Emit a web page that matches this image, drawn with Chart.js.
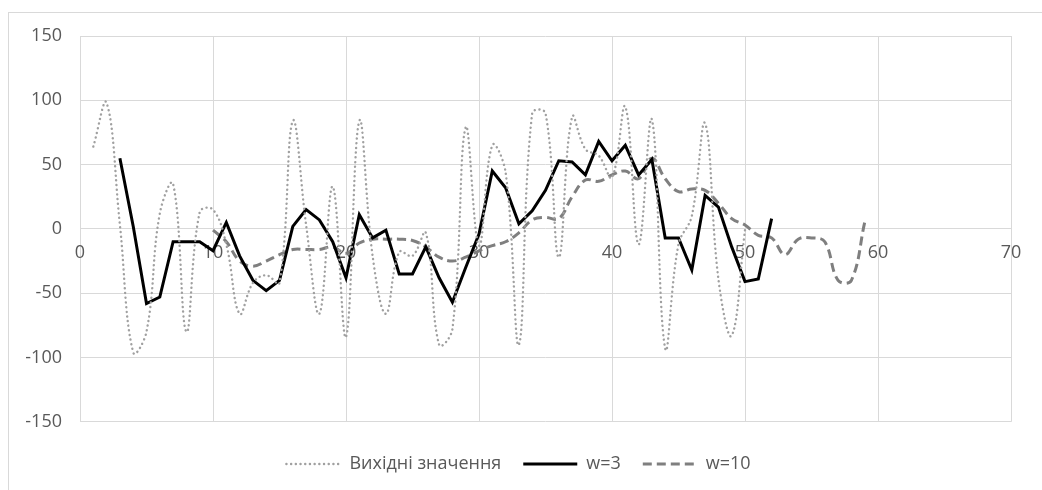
<!DOCTYPE html>
<html>
<head>
<meta charset="utf-8">
<script src="https://cdn.jsdelivr.net/npm/chart.js@4"></script>
<style>
    html, body { margin: 0; padding: 0; background: #fff; }
    #wrap { position: relative; width: 1042px; height: 490px; overflow: hidden; }
    #frame { position: absolute; left: 8px; top: 12px; width: 1100px; height: 540px; border: 1px solid #d9d9d9; }
    canvas { position: absolute; left: 0; top: 0; }
</style>
</head>
<body>
<div id="wrap">
    <div id="frame"></div>
    <canvas id="chart" width="1042" height="490"></canvas>
</div>
<script>
/* Moving average chart */

// original values, x = 1..50
const rawStart = 1;
const rawValues = [64, 98, 3, -96, -80, 12, 35, -80, 13, 15,
    -12, -66, -42, -36, -42, 84, 3, -66, 33, -84,
    84, -21, -66, -18, -21, -3, -90, -78, 79, -13,
    65, 44, -90, 90, 90, -22, 87, 62, 57, 40,
    95, -12, 85, -93, -12, 10, 82, -39, -83, -1];

// w=3, x = 3..52
const w3Start = 3;
const w3Values = [55, 2, -58, -53, -10, -10, -10, -17, 5, -21,
    -40, -48, -40, 2, 15, 7, -10, -38, 11, -7,
    -1, -35, -35, -14, -38, -57, -30, -4, 45, 32,
    4, 14, 30, 53, 52, 42, 68, 53, 65, 42,
    54, -7, -7, -32, 26, 17, -14, -41, -39, 8];

// w=10, x = 10..59
const w10Start = 10;
const w10Values = [-1, -10, -25, -29, -25, -20, -16, -16, -16, -14,
    -19, -11, -8, -8, -8, -9, -14, -22, -25, -22,
    -17, -13, -10, -3, 7, 9, 8, 25, 38, 37,
    42, 45, 39, 55, 39, 29, 31, 30, 20, 8,
    3, -5, -7, -20, -8, -7, -10, -40, -40, 5];

const seriesNames = ["Вихідні значення", "w=3", "w=10"];
const xTicks = [0, 10, 20, 30, 40, 50, 60, 70];
const yTicks = [-150, -100, -50, 0, 50, 100, 150];

function toPoints(start, values) {
    return values.map((v, i) => ({x: start + i, y: v}));
}

const fontFamily = "'Open Sans', 'DejaVu Sans', sans-serif";
const textColor = "#595959";
const gridColor = "#d9d9d9";

const datasets = [
    {
        label: seriesNames[0],
        data: toPoints(rawStart, rawValues),
        borderColor: "#a0a0a0",
        backgroundColor: "transparent",
        borderWidth: 2.4,
        borderDash: [0.1, 4.6],
        borderCapStyle: "round",
        tension: 0.4,
        pointRadius: 0,
        pointStyle: "line",
    },
    {
        label: seriesNames[1],
        data: toPoints(w3Start, w3Values),
        borderColor: "#000000",
        backgroundColor: "transparent",
        borderWidth: 3,
        tension: 0,
        pointRadius: 0,
        pointStyle: "line",
    },
    {
        label: seriesNames[2],
        data: toPoints(w10Start, w10Values),
        borderColor: "#7f7f7f",
        backgroundColor: "transparent",
        borderWidth: 3,
        borderDash: [9, 5],
        tension: 0.4,
        pointRadius: 0,
        pointStyle: "line",
    },
];

/* default legend items, but with the dataset's own dash and width */
function legendLabels(chart) {
    const items = Chart.defaults.plugins.legend.labels.generateLabels(chart);
    items.forEach((item) => {
        const ds = chart.data.datasets[item.datasetIndex];
        item.lineDash = ds.borderDash || [];
        item.lineCap = ds.borderCapStyle || "butt";
        item.lineWidth = ds.borderWidth;
        item.strokeStyle = ds.borderColor;
    });
    return items;
}

new Chart("chart", {
    type: "line",
    data: {datasets: datasets},
    options: {
        responsive: false,
        animation: false,
        layout: {padding: {left: 26, top: 36, right: 31, bottom: 7}},
        plugins: {
            tooltip: {enabled: false},
            legend: {
                position: "bottom",
                // empty title only adds some space above the items
                title: {display: true, text: " ", font: {size: 1}, padding: {top: 10, bottom: 0}},
                labels: {
                    usePointStyle: true,
                    pointStyleWidth: 54,
                    boxHeight: 18,
                    padding: 22,
                    color: textColor,
                    font: {family: fontFamily, size: 18},
                    generateLabels: legendLabels,
                },
            },
        },
        scales: {
            x: {
                type: "linear",
                position: {y: 0},
                min: xTicks[0],
                max: xTicks[xTicks.length - 1],
                afterBuildTicks: (scale) => { scale.ticks = xTicks.map(v => ({value: v})); },
                grid: {color: gridColor, lineWidth: 1, drawTicks: false},
                border: {display: false},
                ticks: {color: textColor, padding: 13, maxRotation: 0, font: {family: fontFamily, size: 18}},
            },
            y: {
                type: "linear",
                min: yTicks[0],
                max: yTicks[yTicks.length - 1],
                afterBuildTicks: (scale) => { scale.ticks = yTicks.map(v => ({value: v})); },
                afterFit: (scale) => { scale.width = 54; },
                grid: {color: gridColor, lineWidth: 1, drawTicks: false},
                border: {display: false},
                ticks: {color: textColor, padding: 18, font: {family: fontFamily, size: 18}},
            },
        },
    },
});
</script>
</body>
</html>
